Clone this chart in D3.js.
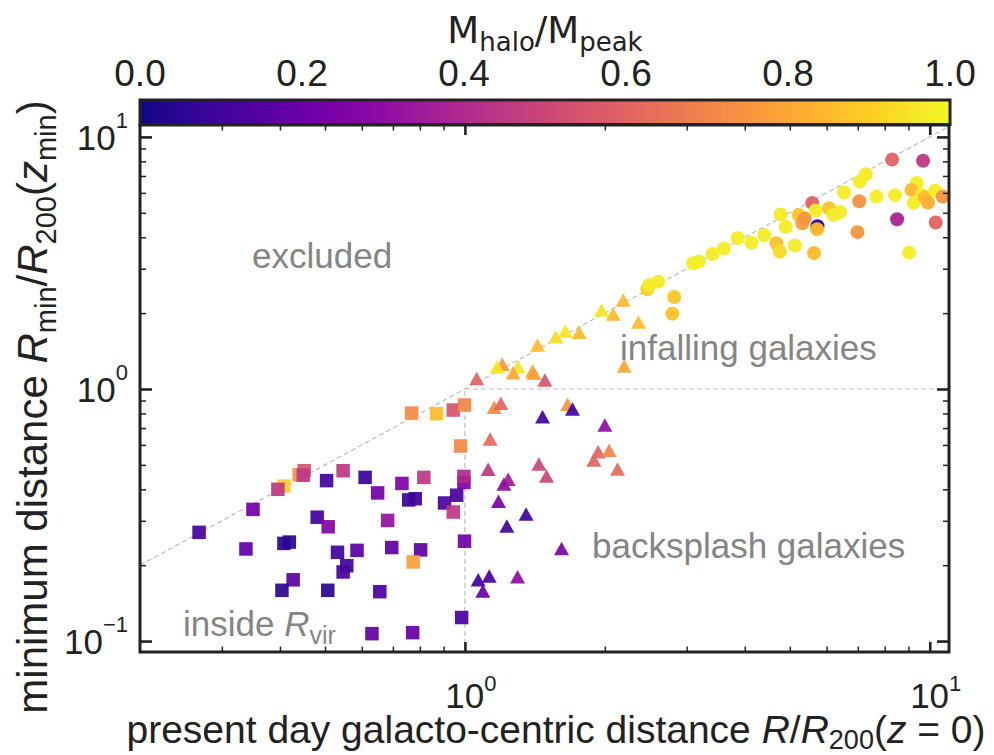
<!DOCTYPE html>
<html><head><meta charset="utf-8">
<script src="https://cdn.jsdelivr.net/npm/d3@7"></script>
<style>body{margin:0;background:#fff}svg{display:block}</style>
</head><body>
<svg id="chart" width="994" height="755"></svg>
<script>
// ---------------- data ----------------
// inside R_vir (squares)
const squareX = [0.268,0.350,0.338,0.408,0.396,0.440,0.451,0.449,0.504,0.547,0.610,0.649,0.732,0.816,0.481,0.508,0.408,0.419,0.532,0.586,0.557,0.547,0.696,0.803,0.774,0.682,0.757,0.782,0.904,0.960,0.995,0.995,0.944,0.998,0.427,0.404,0.507,0.656,0.984,0.631,0.772,0.768,0.869,0.944,0.998,0.979];
const squareY = [0.270,0.333,0.232,0.412,0.400,0.457,0.474,0.455,0.433,0.474,0.446,0.387,0.422,0.446,0.310,0.284,0.244,0.247,0.225,0.229,0.199,0.188,0.235,0.230,0.206,0.301,0.363,0.367,0.353,0.379,0.426,0.450,0.325,0.249,0.175,0.159,0.159,0.157,0.124,0.107,0.108,0.803,0.798,0.825,0.864,0.594];
const squareC = [0.12,0.22,0.18,0.90,0.45,0.75,0.55,0.45,0.10,0.45,0.08,0.22,0.25,0.45,0.10,0.27,0.05,0.05,0.10,0.16,0.10,0.12,0.18,0.16,0.78,0.32,0.10,0.10,0.12,0.12,0.25,0.40,0.45,0.22,0.16,0.05,0.05,0.12,0.12,0.18,0.20,0.72,0.85,0.55,0.70,0.72];
// backsplash / early infall (triangles)
const triangleX = [1.06,1.156,1.195,1.469,1.663,1.704,2.0,1.133,1.935,2.043,1.894,2.13,1.122,1.443,1.498,1.239,1.213,1.181,1.354,1.231,1.614,1.128,1.068,1.298,1.093,1.203,1.173,1.302,1.27,1.398,1.407,1.486,1.433,1.569,1.644,1.761,1.968,2.084,2.19,2.363,2.201];
const triangleY = [1.10,0.846,0.878,0.776,0.870,0.833,0.720,0.633,0.564,0.571,0.523,0.481,0.480,0.504,0.452,0.438,0.420,0.359,0.319,0.286,0.233,0.181,0.175,0.180,0.158,1.253,1.226,1.226,1.16,1.179,1.154,1.086,1.495,1.612,1.70,1.679,2.058,1.985,2.255,1.845,1.234];
const triangleC = [0.60,0.72,0.60,0.10,0.75,0.10,0.30,0.62,0.60,0.70,0.60,0.62,0.45,0.50,0.50,0.35,0.30,0.25,0.10,0.10,0.25,0.12,0.10,0.30,0.20,0.75,0.95,0.95,0.80,0.80,0.78,0.55,0.85,0.93,0.95,0.85,0.95,0.85,0.85,0.85,0.80];
// infalling (circles)
const circleX = [2.469,2.491,2.607,2.819,2.794,3.097,3.186,3.41,3.606,3.865,4.136,4.402,4.677,4.759,4.776,4.90,5.125,5.228,5.319,5.385,5.588,5.686,5.734,5.722,5.636,6.073,6.207,6.413,6.541,7.07,7.283,7.053,6.99,7.68,8.419,8.298,9.674,8.506,9.027,9.376,9.134,9.612,9.238,9.755,9.915,10.27,10.66,10.30];
const circleY = [2.487,2.587,2.666,2.318,1.99,3.154,3.201,3.434,3.61,3.974,3.807,4.084,3.786,3.506,4.926,4.394,3.71,4.903,4.545,4.75,5.472,5.11,4.42,4.30,3.465,5.213,4.903,5.039,6.034,6.647,7.112,5.557,4.19,5.797,5.875,8.128,8.047,4.714,3.474,6.57,6.162,5.886,5.472,5.754,5.497,6.122,5.797,4.579];
const circleC = [0.90,0.97,0.97,0.88,0.87,0.97,0.97,0.97,0.97,0.97,0.97,0.97,0.87,0.93,0.97,0.97,0.97,0.88,0.78,0.75,0.60,0.97,0.05,0.85,0.85,0.88,0.97,0.97,0.97,0.97,0.97,0.75,0.75,0.97,0.97,0.60,0.45,0.38,0.97,0.97,0.85,0.97,0.97,0.85,0.82,0.97,0.75,0.60];

const xMajorTicks = [1, 10];
const xMinorTicks = [0.3,0.4,0.5,0.6,0.7,0.8,0.9,2,3,4,5,6,7,8,9];
const yMajorTicks = [0.1, 1, 10];
const yMinorTicks = [0.2,0.3,0.4,0.5,0.6,0.7,0.8,0.9,2,3,4,5,6,7,8,9];
const majorExponents = {"0.1":"\u22121","1":"0","10":"1"};
const cbarTicks = [0,0.2,0.4,0.6,0.8,1.0];
const cbarTickLabels = ["0.0","0.2","0.4","0.6","0.8","1.0"];

// ---------------- layout ----------------
const svg = d3.select("#chart");
const L = 140, R = 949, T = 125, B = 652;
const x = d3.scaleLog().domain([0.2, 11]).range([L, R]);
const y = d3.scaleLog().domain([0.0905, 11.15]).range([B, T]);
const color = d3.scaleSequential(d3.interpolatePlasma).domain([0, 1]);
const FONT = "'Liberation Sans', Arial, Helvetica, sans-serif";
const MATH = "'DejaVu Sans', sans-serif";
const INK = "#222";

function rich(sel, px, py, anchor, parts, fill, rotate) {
  const t = sel.append("text").attr("x", px).attr("y", py)
    .attr("text-anchor", anchor).attr("font-family", FONT).attr("fill", fill || INK);
  if (rotate) t.attr("transform", `rotate(${rotate},${px},${py})`);
  let cur = 0;
  parts.forEach(p => {
    const s = t.append("tspan").text(p.t).attr("font-size", p.size);
    if (p.italic) s.attr("font-style", "italic");
    if (p.family) s.attr("font-family", p.family);
    const sh = p.shift || 0;
    if (sh !== cur) { s.attr("dy", sh - cur); cur = sh; }
  });
  return t;
}

svg.append("defs").append("clipPath").attr("id", "plotclip")
  .append("rect").attr("x", L).attr("y", T).attr("width", R - L).attr("height", B - T);

// reference lines
const lines = svg.append("g").attr("clip-path", "url(#plotclip)")
  .attr("stroke", "#bdbdbd").attr("stroke-width", 1.2).attr("stroke-dasharray", "5,3").attr("fill", "none");
lines.append("line").attr("x1", x(0.2)).attr("y1", y(0.2)).attr("x2", x(11)).attr("y2", y(11));
lines.append("line").attr("x1", x(1)).attr("y1", y(1)).attr("x2", x(11)).attr("y2", y(1));
lines.append("line").attr("x1", x(1)).attr("y1", y(0.0905)).attr("x2", x(1)).attr("y2", y(1));

// markers
const marks = svg.append("g").attr("clip-path", "url(#plotclip)");
const sq = 13.5;
marks.selectAll("rect.sq").data(squareX.map((v, i) => [v, squareY[i], squareC[i]])).enter()
  .append("rect").attr("class", "sq")
  .attr("x", d => x(d[0]) - sq / 2).attr("y", d => y(d[1]) - sq / 2)
  .attr("width", sq).attr("height", sq)
  .attr("fill", d => color(d[2])).attr("fill-opacity", 0.93);
const tw = 15, th = 13.5;
marks.selectAll("path.tri").data(triangleX.map((v, i) => [v, triangleY[i], triangleC[i]])).enter()
  .append("path").attr("class", "tri")
  .attr("d", `M0,${-th / 2}L${tw / 2},${th / 2}L${-tw / 2},${th / 2}Z`)
  .attr("transform", d => `translate(${x(d[0])},${y(d[1])})`)
  .attr("fill", d => color(d[2])).attr("fill-opacity", 0.93);
marks.selectAll("circle.ci").data(circleX.map((v, i) => [v, circleY[i], circleC[i]])).enter()
  .append("circle").attr("class", "ci")
  .attr("cx", d => x(d[0])).attr("cy", d => y(d[1])).attr("r", 7)
  .attr("fill", d => color(d[2])).attr("fill-opacity", 0.96);

// ticks (inward on all four sides)
function ticks(axisFn, scale, vals, size, width, transform) {
  const g = svg.append("g").attr("transform", transform)
    .call(axisFn(scale).tickValues(vals).tickSize(-size).tickFormat(""));
  g.select(".domain").remove();
  g.selectAll(".tick line").attr("stroke", INK).attr("stroke-width", width);
}
ticks(d3.axisBottom, x, xMajorTicks, 10, 2.6, `translate(0,${B})`);
ticks(d3.axisBottom, x, xMinorTicks, 5.5, 1.5, `translate(0,${B})`);
ticks(d3.axisTop, x, xMajorTicks, 10, 2.6, `translate(0,${T})`);
ticks(d3.axisTop, x, xMinorTicks, 5.5, 1.5, `translate(0,${T})`);
ticks(d3.axisLeft, y, yMajorTicks, 12, 2.6, `translate(${L},0)`);
ticks(d3.axisLeft, y, yMinorTicks, 6, 1.5, `translate(${L},0)`);
ticks(d3.axisRight, y, yMajorTicks, 12, 2.6, `translate(${R},0)`);
ticks(d3.axisRight, y, yMinorTicks, 6, 1.5, `translate(${R},0)`);

// frame
svg.append("rect").attr("x", L).attr("y", T).attr("width", R - L).attr("height", B - T)
  .attr("fill", "none").attr("stroke", INK).attr("stroke-width", 3);

// tick labels
const labels = svg.append("g");
yMajorTicks.forEach(v => {
  rich(labels, 128, y(v) + 13, "end", [
    {t: "10", size: 35},
    {t: majorExponents[String(v)], size: 22, shift: -22}
  ]);
});
xMajorTicks.forEach(v => {
  rich(labels, x(v) + 6, 708, "middle", [
    {t: "10", size: 35},
    {t: majorExponents[String(v)], size: 22, shift: -17}
  ]);
});

// axis labels
rich(svg, 556, 743, "middle", [
  {t: "present day galacto-centric distance ", size: 39},
  {t: "R", size: 39, italic: true},
  {t: "/", size: 39},
  {t: "R", size: 39, italic: true},
  {t: "200", size: 27, shift: 6},
  {t: "(", size: 39, shift: 0},
  {t: "z", size: 39, italic: true},
  {t: " = 0)", size: 39}
]);
rich(svg, 47, 407, "middle", [
  {t: "minimum distance ", size: 42},
  {t: "R", size: 42, italic: true},
  {t: "min", size: 29, shift: 9},
  {t: "/", size: 42, shift: 0},
  {t: "R", size: 42, italic: true},
  {t: "200", size: 29, shift: 9},
  {t: "(", size: 42, shift: 0},
  {t: "z", size: 42, italic: true},
  {t: "min", size: 29, shift: 9},
  {t: ")", size: 42, shift: 0}
], INK, -90);

// annotations
const GRAY = "#858585";
rich(svg, 252, 268, "start", [{t: "excluded", size: 35}], GRAY);
rich(svg, 620, 360, "start", [{t: "infalling galaxies", size: 35}], GRAY);
rich(svg, 592, 558, "start", [{t: "backsplash galaxies", size: 35}], GRAY);
rich(svg, 183, 636, "start", [
  {t: "inside ", size: 35},
  {t: "R", size: 35, italic: true},
  {t: "vir", size: 25, shift: 8}
], GRAY);

// colorbar
const cb = d3.scaleLinear().domain([0, 1]).range([L, R + 1]);
const grad = svg.select("defs").append("linearGradient").attr("id", "plasma")
  .attr("x1", "0%").attr("x2", "100%").attr("y1", "0%").attr("y2", "0%");
d3.range(0, 1.0001, 0.02).forEach(t => {
  grad.append("stop").attr("offset", (t * 100) + "%").attr("stop-color", color(t));
});
svg.append("rect").attr("x", cb(0)).attr("y", 100).attr("width", cb(1) - cb(0)).attr("height", 24.5)
  .attr("fill", "url(#plasma)").attr("stroke", INK).attr("stroke-width", 3);
cbarTicks.forEach((v, i) => {
  rich(svg, cb(v), 86, "middle", [{t: cbarTickLabels[i], size: 37}]);
});
rich(svg, 545, 43, "middle", [
  {t: "M", size: 37, family: MATH},
  {t: "halo", size: 26, shift: 8, family: MATH},
  {t: "/M", size: 37, shift: 0, family: MATH},
  {t: "peak", size: 26, shift: 8, family: MATH}
]);
</script>
</body></html>
